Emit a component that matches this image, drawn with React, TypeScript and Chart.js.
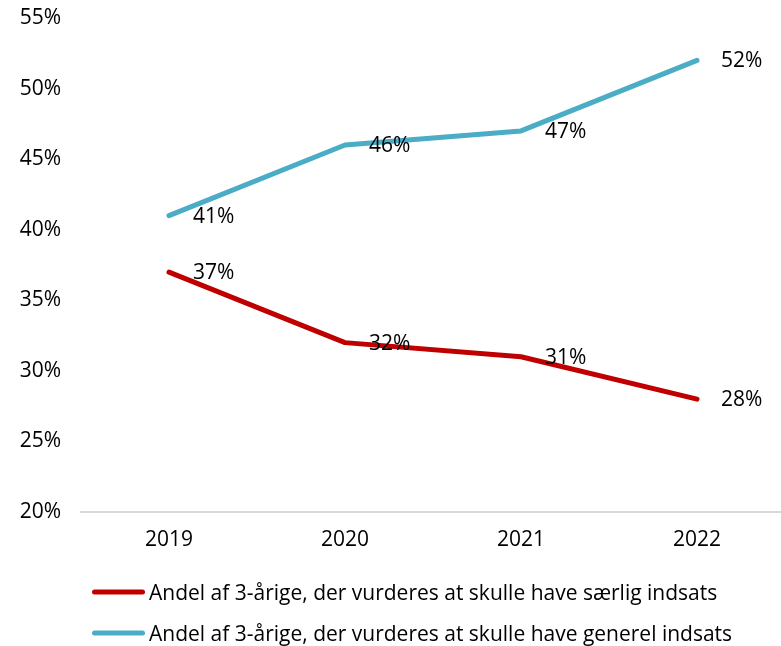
import React, { useEffect, useRef } from "react";
import { Chart, registerables } from "chart.js";

Chart.register(...registerables);

const categories = ["2019", "2020", "2021", "2022"];
const seriesNames = [
  "Andel af 3-årige, der vurderes at skulle have særlig indsats",
  "Andel af 3-årige, der vurderes at skulle have generel indsats",
];
const saerligIndsats = [37, 32, 31, 28];
const generelIndsats = [41, 46, 47, 52];
const yMin = 20;
const yMax = 55;
const yStep = 5;

const FONT = "'Open Sans'";
const FONT_SIZE = 21;
const TEXT = "#000000";

const dataLabelPlugin = {
  id: "dataLabels",
  afterDatasetsDraw(chart: any) {
    const ctx = chart.ctx;
    ctx.save();
    ctx.font = `${FONT_SIZE}px ${FONT}`;
    ctx.fillStyle = TEXT;
    ctx.textAlign = "left";
    ctx.textBaseline = "middle";
    chart.data.datasets.forEach((ds: any, i: number) => {
      const meta = chart.getDatasetMeta(i);
      meta.data.forEach((pt: any, j: number) => {
        ctx.fillText(`${ds.data[j]}%`, pt.x + 24, pt.y + 1);
      });
    });
    ctx.restore();
  },
};

const legendPlugin = {
  id: "customLegend",
  afterDraw(chart: any) {
    const ctx = chart.ctx;
    const area = chart.chartArea;
    ctx.save();
    ctx.font = `${FONT_SIZE}px ${FONT}`;
    ctx.textAlign = "left";
    ctx.textBaseline = "middle";
    chart.data.datasets.forEach((ds: any, i: number) => {
      const y = area.bottom + 80 + i * 41;
      const x0 = area.left + 11;
      ctx.strokeStyle = ds.borderColor;
      ctx.lineWidth = 5;
      ctx.lineCap = "round";
      ctx.beginPath();
      ctx.moveTo(x0 + 2.5, y);
      ctx.lineTo(x0 + 53 - 2.5, y);
      ctx.stroke();
      ctx.fillStyle = TEXT;
      ctx.fillText(ds.label, x0 + 57, y + 2);
    });
    ctx.restore();
  },
};

export default function App() {
  const ref = useRef<HTMLCanvasElement>(null);

  useEffect(() => {
    if (!ref.current) return;
    const chart = new Chart(ref.current, {
      type: "line",
      data: {
        labels: categories,
        datasets: [
          {
            label: seriesNames[0],
            data: saerligIndsats,
            borderColor: "#C00000",
            backgroundColor: "#C00000",
            borderWidth: 5,
            borderCapStyle: "round",
            borderJoinStyle: "round",
            pointRadius: 0,
            tension: 0,
          },
          {
            label: seriesNames[1],
            data: generelIndsats,
            borderColor: "#4BACC6",
            backgroundColor: "#4BACC6",
            borderWidth: 5,
            borderCapStyle: "round",
            borderJoinStyle: "round",
            pointRadius: 0,
            tension: 0,
          },
        ],
      },
      options: {
        animation: false,
        responsive: false,
        maintainAspectRatio: false,
        layout: { padding: { top: 18, left: 0, right: 0, bottom: 84 } },
        plugins: {
          legend: { display: false },
          tooltip: { enabled: false },
        },
        scales: {
          x: {
            offset: true,
            grid: { display: false, drawTicks: false },
            border: { display: true, color: "#D9D9D9", width: 2 },
            ticks: {
              color: TEXT,
              font: { family: FONT, size: FONT_SIZE },
              padding: 15,
              maxRotation: 0,
            },
            afterFit(scale: any) {
              scale.height = 50;
            },
          },
          y: {
            min: yMin,
            max: yMax,
            grid: { display: false, drawTicks: false },
            border: { display: false },
            ticks: {
              stepSize: yStep,
              color: TEXT,
              font: { family: FONT, size: FONT_SIZE },
              padding: 20,
              callback: (v: any) => `${v}%`,
            },
            afterFit(scale: any) {
              scale.width = 81;
              scale.paddingTop = 0;
              scale.paddingBottom = 0;
            },
          },
        },
      },
      plugins: [dataLabelPlugin, legendPlugin],
    });
    return () => chart.destroy();
  }, []);

  return (
    <div
      style={{
        position: "fixed",
        left: 0,
        top: 0,
        width: 781,
        height: 646,
        overflow: "hidden",
        background: "#fff",
      }}
    >
      <canvas ref={ref} width={785} height={646} style={{ display: "block" }} />
    </div>
  );
}
